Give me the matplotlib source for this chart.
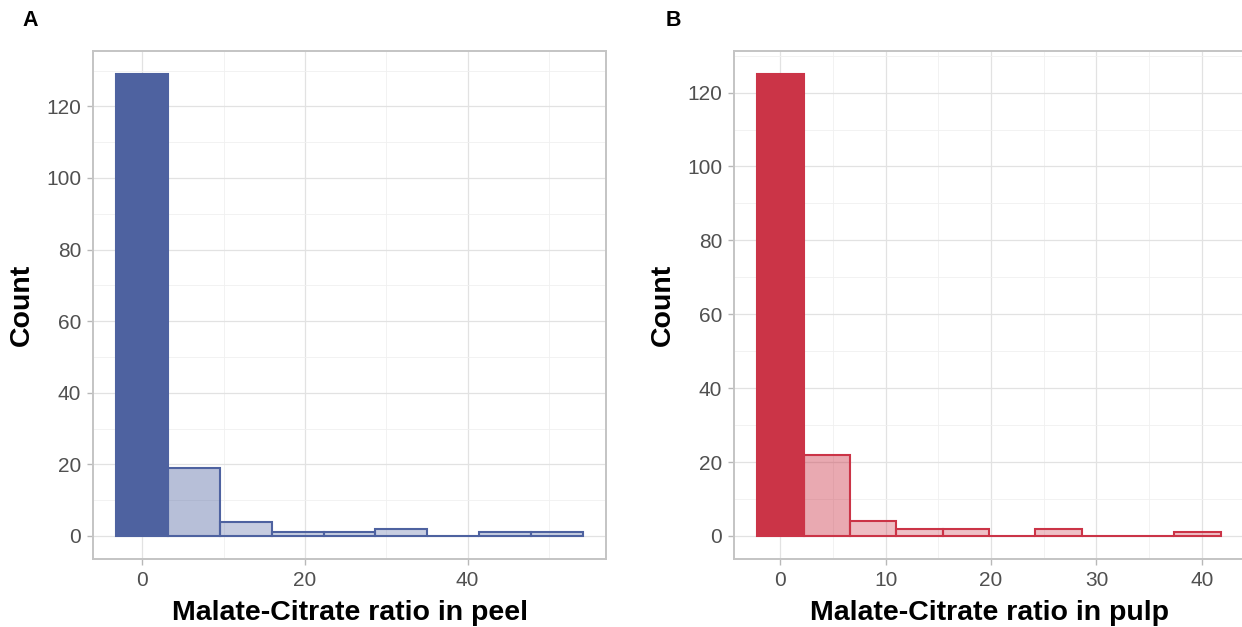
import matplotlib
matplotlib.use('Agg')
import matplotlib.pyplot as plt
from matplotlib.colors import to_rgba
from matplotlib.ticker import MultipleLocator

plt.rcParams['font.family'] = ['Liberation Sans', 'DejaVu Sans']

# histogram counts (bins centred on 0)
peel_counts = [129, 19, 4, 1, 1, 2, 0, 1, 1]
peel_binwidth = 6.37
pulp_counts = [125, 22, 4, 2, 2, 0, 2, 0, 0, 1]
pulp_binwidth = 4.4

blue = '#4E62A0'
red = '#CB3447'

W, H = 1242, 627
fig = plt.figure(figsize=(W / 100, H / 100), dpi=100)


def px_axes(x0, x1, y0, y1):
    return fig.add_axes([x0 / W, (H - y1) / H, (x1 - x0) / W, (y1 - y0) / H])


def draw_hist(ax, counts, binwidth, color, xmajor, xminor, xlabel):
    start = -binwidth / 2
    lefts = [start + i * binwidth for i in range(len(counts))]
    top = max(counts)
    # fill opacity follows the count, outline stays opaque
    faces = [to_rgba(color, 0.3 + 0.7 * c / top) for c in counts]
    ax.bar(lefts, counts, width=binwidth, align='edge', color=faces,
           edgecolor=color, linewidth=1.5, zorder=3)
    ax.use_sticky_edges = False
    ax.margins(x=0.05, y=0.05)

    ax.xaxis.set_major_locator(MultipleLocator(xmajor))
    ax.xaxis.set_minor_locator(MultipleLocator(xminor))
    ax.yaxis.set_major_locator(MultipleLocator(20))
    ax.yaxis.set_minor_locator(MultipleLocator(10))
    ax.grid(which='major', color='#E2E2E2', linewidth=0.9, zorder=0)
    ax.grid(which='minor', color='#F0F0F0', linewidth=0.6, zorder=0)
    ax.set_axisbelow(True)

    for s in ax.spines.values():
        s.set_color('#C4C4C4')
        s.set_linewidth(1.4)
    ax.tick_params(which='major', length=4.5, width=1, color='#B8B8B8',
                   labelsize=15, labelcolor='#505050')
    ax.tick_params(which='minor', length=0)
    ax.tick_params(axis='x', pad=4)
    ax.tick_params(axis='y', pad=4)

    ax.set_xlabel(xlabel, fontsize=20.5, fontweight='bold', color='black')
    ax.set_ylabel('Count', fontsize=20.5, fontweight='bold', color='black',
                  va='center')
    ax.xaxis.set_label_coords(0.5, -0.08)
    ax.yaxis.set_label_coords(-0.139, 0.5)


ax1 = px_axes(93, 606, 51, 559)
draw_hist(ax1, peel_counts, peel_binwidth, blue, 20, 10,
          'Malate-Citrate ratio in peel')

ax2 = px_axes(734, 1244, 51, 559)
draw_hist(ax2, pulp_counts, pulp_binwidth, red, 10, 5,
          'Malate-Citrate ratio in pulp')
# the right-hand panel runs off the edge of the figure
ax2.spines['right'].set_visible(False)

fig.text(22 / W, 1 - 21 / H, 'A', fontsize=15.5, fontweight='bold',
         ha='left', va='center')
fig.text(666 / W, 1 - 21 / H, 'B', fontsize=15.5, fontweight='bold',
         ha='left', va='center')

fig.savefig('out.png', dpi=100)
